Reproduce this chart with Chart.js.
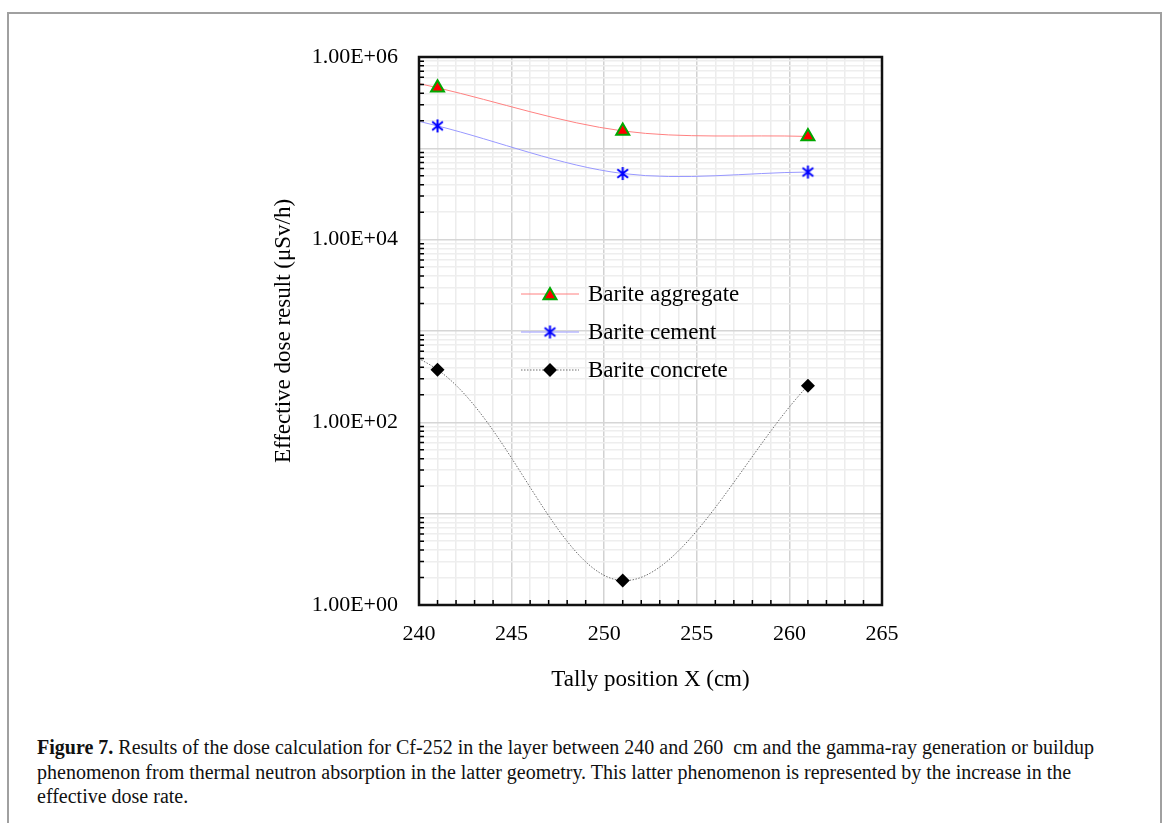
<!DOCTYPE html>
<html>
<head>
<meta charset="utf-8">
<script src="https://cdn.jsdelivr.net/npm/chart.js@4.4.1/dist/chart.umd.min.js"></script>
<style>
  body { margin: 0; background: #fff; width: 1168px; height: 823px; overflow: hidden; position: relative; }
  .frame { position: absolute; left: 7px; top: 12px; width: 1151px; height: 900px; border: 2px solid #a0a0a0; }
  #chart { position: absolute; left: 0; top: 0; }
  .caption {
    position: absolute; left: 37px; top: 735px; white-space: nowrap;
    font-family: 'Liberation Serif', serif; font-size: 20px; line-height: 24.5px; color: #111;
  }
  .caption b { font-weight: bold; }
</style>
</head>
<body>
<div class="frame"></div>
<canvas id="chart" width="1168" height="720"></canvas>
<div class="caption"><b>Figure 7.</b> Results of the dose calculation for Cf-252 in the layer between 240 and 260&nbsp; cm and the gamma-ray generation or buildup<br>phenomenon from thermal neutron absorption in the latter geometry. This latter phenomenon is represented by the increase in the<br>effective dose rate.</div>
<script>
// ---- data ----
const tallyX = [231, 241, 251, 261];           // 231 lies left of the axis, only its line stub shows
const aggregateDose = [1.35e6, 4.6e5, 1.55e5, 1.35e5];
const cementDose    = [5.5e5, 1.76e5, 5.3e4, 5.5e4];
const concreteDose  = [1300, 377, 1.85, 252];
const seriesNames   = ['Barite aggregate', 'Barite cement', 'Barite concrete'];
const yTickValues   = [];
for (let e = 0; e <= 5; e++) for (let m = 1; m <= 9; m++) yTickValues.push(m * Math.pow(10, e));
yTickValues.push(1e6);

const SERIF = "'Liberation Serif', 'Times New Roman', serif";

function pts(vals) { return tallyX.map((x, i) => ({ x, y: vals[i] })); }

// asterisk marker (six arms) like the spreadsheet one
function asteriskMarker(color, size) {
  const c = document.createElement('canvas');
  c.width = size; c.height = size;
  const g = c.getContext('2d');
  const h = size / 2, r = size / 2 - 1;
  g.strokeStyle = color; g.lineWidth = 2; g.lineCap = 'butt';
  g.beginPath();
  g.moveTo(h, h - r); g.lineTo(h, h + r);
  const dx = r * Math.cos(Math.PI / 6) * 0.95, dy = r * Math.sin(Math.PI / 6) * 1.3;
  g.moveTo(h - dx, h - dy); g.lineTo(h + dx, h + dy);
  g.moveTo(h - dx, h + dy); g.lineTo(h + dx, h - dy);
  g.stroke();
  return c;
}
const starImg = asteriskMarker('#0000ff', 15);

function isDecade(v) {
  const l = Math.log10(v);
  return Math.abs(l - Math.round(l)) < 1e-9;
}

const seriesStyle = [
  { line: '#ff8080', dash: [], point: 'triangle', radius: 7.5, fill: '#ff0000', border: '#00a800', bw: 2 },
  { line: '#9898ff', dash: [], point: starImg, radius: 7, fill: '#0000ff', border: '#0000ff', bw: 0 },
  { line: '#6e6e6e', dash: [1.5, 1.5], point: 'rectRot', radius: 7, fill: '#000', border: '#000', bw: 0 }
];

// inside ticks, plot frame and the in-plot legend
const framePlugin = {
  id: 'framePlugin',
  afterDatasetsDraw(chart) {
    const { ctx, chartArea: a, scales } = chart;
    ctx.save();
    ctx.strokeStyle = '#000';
    ctx.lineWidth = 1.5;
    ctx.beginPath();
    scales.x.ticks.forEach(t => {
      const px = scales.x.getPixelForValue(t.value);
      if (t.value % 5 === 0) return;
      ctx.moveTo(px, a.bottom); ctx.lineTo(px, a.bottom - 5);
    });
    scales.y.ticks.forEach(t => {
      if (isDecade(t.value)) return;
      const py = scales.y.getPixelForValue(t.value);
      ctx.moveTo(a.left, py); ctx.lineTo(a.left + 5, py);
    });
    ctx.stroke();
    ctx.lineWidth = 2.5;
    ctx.strokeStyle = '#111';
    ctx.strokeRect(a.left, a.top, a.right - a.left, a.bottom - a.top);

    // legend
    const lx = a.left + 102, ly = a.top + 237, row = 38;
    ctx.font = '23px ' + SERIF;
    ctx.textBaseline = 'middle';
    ctx.textAlign = 'left';
    seriesNames.forEach((name, i) => {
      const s = seriesStyle[i];
      const y = ly + i * row;
      ctx.strokeStyle = s.line; ctx.lineWidth = 1;
      ctx.setLineDash(s.dash);
      ctx.beginPath(); ctx.moveTo(lx, y); ctx.lineTo(lx + 58, y); ctx.stroke();
      ctx.setLineDash([]);
      ctx.fillStyle = s.fill; ctx.strokeStyle = s.border; ctx.lineWidth = s.bw;
      Chart.helpers.drawPoint(ctx, { pointStyle: s.point, radius: s.radius, borderWidth: s.bw, rotation: 0 }, lx + 29, y + (s.point === 'triangle' ? 1.5 : 0));
      ctx.fillStyle = '#000';
      ctx.fillText(name, lx + 67, y + 1);
    });
    ctx.restore();
  }
};

const datasets = [aggregateDose, cementDose, concreteDose].map((vals, i) => {
  const s = seriesStyle[i];
  return {
    label: seriesNames[i],
    data: pts(vals),
    showLine: true,
    borderColor: s.line,
    borderWidth: 1,
    borderDash: s.dash,
    tension: 0.33,
    pointStyle: s.point,
    pointRadius: s.radius,
    pointBackgroundColor: s.fill,
    pointBorderColor: s.border,
    pointBorderWidth: s.bw,
    pointHoverRadius: s.radius
  };
});

new Chart(document.getElementById('chart'), {
  type: 'scatter',
  data: { datasets },
  options: {
    responsive: false,
    animation: false,
    events: [],
    layout: { padding: { left: 250, right: 286, top: 57, bottom: 0 } },
    elements: { line: { capBezierPoints: false } },
    plugins: { legend: { display: false }, tooltip: { enabled: false } },
    scales: {
      x: {
        type: 'linear', min: 240, max: 265,
        afterFit: s => { s.height = 115; },
        ticks: {
          stepSize: 1, autoSkip: false, maxRotation: 0, padding: 16,
          color: '#000', font: { family: SERIF, size: 22 },
          callback: v => (v % 5 === 0 ? String(v) : '')
        },
        grid: {
          drawTicks: false,
          color: c => (c.tick && c.tick.value % 5 === 0 ? '#d2d2d2' : '#ececec'),
          lineWidth: 1.5
        },
        border: { display: false },
        title: { display: true, text: 'Tally position X (cm)', color: '#000', font: { family: SERIF, size: 23 }, padding: { top: 4, bottom: 26 } }
      },
      y: {
        type: 'logarithmic', min: 1, max: 1e6,
        afterFit: s => { s.width = 169; },
        afterBuildTicks: s => { s.ticks = yTickValues.map(v => ({ value: v, major: isDecade(v) })); },
        ticks: {
          autoSkip: false, padding: 21, color: '#000', font: { family: SERIF, size: 22 },
          callback: v => {
            if (!isDecade(v)) return '';
            const e = Math.round(Math.log10(v));
            return e % 2 === 0 ? '1.00E+' + String(e).padStart(2, '0') : '';
          }
        },
        grid: {
          drawTicks: false,
          color: c => (c.tick && isDecade(c.tick.value) ? '#d6d6d6' : '#eeeeee'),
          lineWidth: 1.5
        },
        border: { display: false },
        title: { display: true, text: 'Effective dose result (μSv/h)', color: '#000', font: { family: SERIF, size: 23 }, padding: { top: 20, bottom: 4 } }
      }
    }
  },
  plugins: [framePlugin]
});
</script>
</body>
</html>
